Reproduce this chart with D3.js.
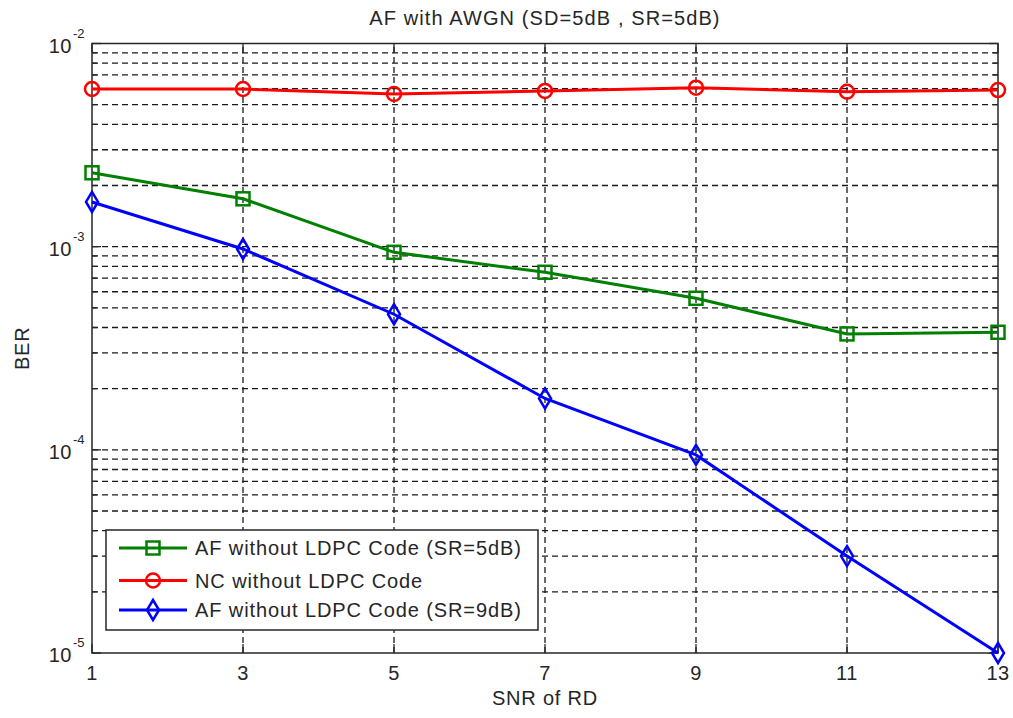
<html>
<head>
<script src="https://d3js.org/d3.v7.min.js"></script>
<style>
    body { margin: 0; background: #ffffff; }
    text { font-family: "Liberation Sans", Arial, sans-serif; fill: #262626; }
</style>
</head>
<body>
<svg id="berPlot" width="1013" height="718"></svg>
<script>

// SNR of the relay-destination link
const snrRD = [1, 3, 5, 7, 9, 11, 13];

// BER curves
const berAF5 = [2.31e-3, 1.72e-3, 9.38e-4, 7.48e-4, 5.57e-4, 3.72e-4, 3.79e-4];
const berNC = [5.97e-3, 5.97e-3, 5.64e-3, 5.84e-3, 6.06e-3, 5.79e-3, 5.90e-3];
const berAF9 = [1.66e-3, 9.74e-4, 4.65e-4, 1.79e-4, 9.44e-5, 3.0e-5, 1.0e-5];

const seriesNames = ["AF without LDPC Code (SR=5dB)", "NC without LDPC Code", "AF without LDPC Code (SR=9dB)"];
const xTicks = [1, 3, 5, 7, 9, 11, 13];
const decades = [-5, -4, -3, -2];

const svg = d3.select("svg#berPlot");
const margin = { top: 43.5, right: 15, bottom: 65, left: 92 };
const width = +svg.attr("width");
const height = +svg.attr("height");

const xScale = d3.scaleLinear().domain([1, 13]).range([margin.left, width - margin.right]);
const yScale = d3.scaleLog().domain([1e-5, 1e-2]).range([height - margin.bottom, margin.top]);

const x0 = xScale.range()[0], x1 = xScale.range()[1];
const y0 = yScale.range()[0], y1 = yScale.range()[1];

// all log ticks 1..9 x decade
let minorTicks = [];
decades.slice(0, 3).forEach(p => {
    for (let m = 1; m <= 9; m++) minorTicks.push(m * Math.pow(10, p));
});
minorTicks.push(1e-2);

const grid = svg.append("g").attr("class", "grid")
    .attr("stroke", "#1a1a1a")
    .attr("stroke-width", 1.3)
    .attr("stroke-dasharray", "6,4");

grid.selectAll("line.h").data(minorTicks.filter(v => v > 1e-5 && v < 1e-2))
    .join("line")
    .attr("class", "h")
    .attr("x1", x0).attr("x2", x1)
    .attr("y1", d => yScale(d)).attr("y2", d => yScale(d));

grid.selectAll("line.v").data(xTicks.slice(1, -1))
    .join("line")
    .attr("class", "v")
    .attr("x1", d => xScale(d)).attr("x2", d => xScale(d))
    .attr("y1", y0).attr("y2", y1);

// tick marks pointing inward on all four sides
const ticks = svg.append("g").attr("stroke", "#262626").attr("stroke-width", 1.3);
minorTicks.forEach(v => {
    const isMajor = Math.abs(Math.log10(v) - Math.round(Math.log10(v))) < 1e-9;
    const len = isMajor ? 9 : 5;
    ticks.append("line").attr("x1", x0).attr("x2", x0 + len).attr("y1", yScale(v)).attr("y2", yScale(v));
    ticks.append("line").attr("x1", x1).attr("x2", x1 - len).attr("y1", yScale(v)).attr("y2", yScale(v));
});
xTicks.forEach(v => {
    ticks.append("line").attr("x1", xScale(v)).attr("x2", xScale(v)).attr("y1", y0).attr("y2", y0 - 9);
    ticks.append("line").attr("x1", xScale(v)).attr("x2", xScale(v)).attr("y1", y1).attr("y2", y1 + 9);
});

// plot frame
svg.append("rect")
    .attr("x", x0).attr("y", y1)
    .attr("width", x1 - x0).attr("height", y0 - y1)
    .attr("fill", "none")
    .attr("stroke", "#262626")
    .attr("stroke-width", 1.5);

// x tick labels
svg.selectAll("text.xtick").data(xTicks)
    .join("text")
    .attr("class", "xtick")
    .attr("x", d => xScale(d))
    .attr("y", y0 + 27)
    .attr("text-anchor", "middle")
    .style("font-size", "20px")
    .style("letter-spacing", "0.5px")
    .text(d => d);

// y tick labels as 10^p
decades.forEach(p => {
    const ty = yScale(Math.pow(10, p));
    svg.append("text")
        .attr("x", x0 - 20)
        .attr("y", ty + 9)
        .attr("text-anchor", "end")
        .style("font-size", "20px")
        .style("letter-spacing", "0.5px")
        .text("10");
    svg.append("text")
        .attr("x", x0 - 19)
        .attr("y", ty - 6)
        .style("font-size", "13px")
        .text(p);
});

// titles
svg.append("text")
    .attr("x", (x0 + x1) / 2)
    .attr("y", 25)
    .attr("text-anchor", "middle")
    .style("font-size", "20px")
    .style("letter-spacing", "1.1px")
    .text("AF with AWGN (SD=5dB , SR=5dB)");
svg.append("text")
    .attr("x", (x0 + x1) / 2)
    .attr("y", 705)
    .attr("text-anchor", "middle")
    .style("font-size", "20px")
    .style("letter-spacing", "0.8px")
    .text("SNR of RD");
svg.append("text")
    .attr("transform", "rotate(-90)")
    .attr("x", -(y0 + y1) / 2)
    .attr("y", 29)
    .attr("text-anchor", "middle")
    .style("font-size", "20px")
    .style("letter-spacing", "0.8px")
    .text("BER");

// markers
const markerShapes = {
    square: (g, x, y) => g.append("rect").attr("x", x - 6.5).attr("y", y - 6.5).attr("width", 13).attr("height", 13),
    circle: (g, x, y) => g.append("circle").attr("cx", x).attr("cy", y).attr("r", 7),
    diamond: (g, x, y) => g.append("path").attr("d", `M${x},${y - 10}L${x + 6},${y}L${x},${y + 10}L${x - 6},${y}Z`)
};

const series = [
    { name: seriesNames[0], values: berAF5, color: "#008000", marker: "square" },
    { name: seriesNames[1], values: berNC, color: "#ff0000", marker: "circle" },
    { name: seriesNames[2], values: berAF9, color: "#0000ff", marker: "diamond" }
];

const lineGen = d3.line()
    .x((d, i) => xScale(snrRD[i]))
    .y(d => yScale(d));

const chart = svg.append("g").attr("id", "curves");
series.forEach(s => {
    chart.append("path")
        .datum(s.values)
        .attr("fill", "none")
        .attr("stroke", s.color)
        .attr("stroke-width", 3)
        .attr("d", lineGen);
    const mg = chart.append("g")
        .attr("fill", "none")
        .attr("stroke", s.color)
        .attr("stroke-width", 2.5);
    s.values.forEach((v, i) => markerShapes[s.marker](mg, xScale(snrRD[i]), yScale(v)));
});

// legend
const legend = svg.append("g").attr("id", "legend");
legend.append("rect")
    .attr("x", 106).attr("y", 530)
    .attr("width", 432).attr("height", 100)
    .attr("fill", "#ffffff")
    .attr("stroke", "#262626")
    .attr("stroke-width", 1.5);
const rowY = [548, 580.5, 610];
series.forEach((s, i) => {
    legend.append("line")
        .attr("x1", 119).attr("x2", 187)
        .attr("y1", rowY[i]).attr("y2", rowY[i])
        .attr("stroke", s.color)
        .attr("stroke-width", 3);
    const mg = legend.append("g").attr("fill", "none").attr("stroke", s.color).attr("stroke-width", 2.5);
    markerShapes[s.marker](mg, 153, rowY[i]);
    legend.append("text")
        .attr("x", 195)
        .attr("y", rowY[i] + 7)
        .style("font-size", "20px")
        .style("letter-spacing", "0.9px")
        .text(s.name);
});

</script>
</body>
</html>
